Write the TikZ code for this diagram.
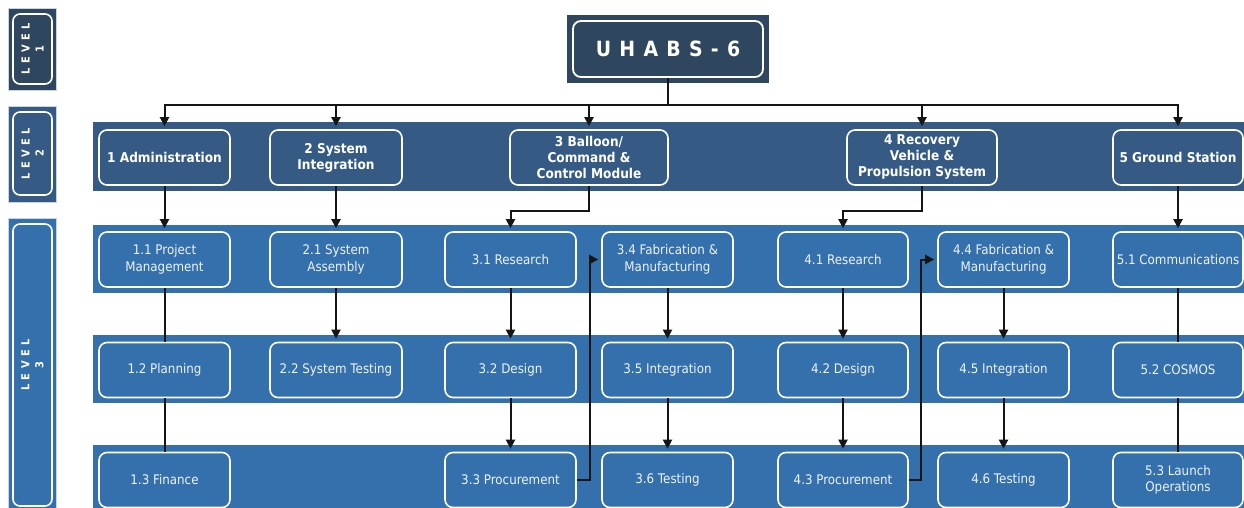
\documentclass[tikz,border=0pt]{standalone}
\usepackage{fontspec}
\setmainfont{DejaVu Sans}[FakeStretch=0.9]
\usetikzlibrary{arrows.meta}

\definecolor{navy}{HTML}{2E475E}
\definecolor{midblue}{HTML}{355B84}
\definecolor{ltblue}{HTML}{3470AB}
\definecolor{wire}{HTML}{151515}
\definecolor{txtlt}{HTML}{EEF3F8}
\definecolor{rim}{HTML}{C9D4DF}

\tikzset{
  wbs/.style={draw=white, line width=1.6pt, rounded corners=8pt, align=center,
    inner sep=2pt, minimum height=55pt},
  l2box/.style={wbs, fill=midblue, text=white,
    font=\bfseries\fontsize{13.5}{16}\selectfont},
  l3box/.style={wbs, fill=ltblue, text=txtlt,
    font=\fontsize{13.2}{16.5}\selectfont},
  sidebg/.style={draw=rim, line width=0.6pt, inner sep=0pt},
  sidein/.style={draw=white, line width=1.6pt, rounded corners=7pt, inner sep=0pt,
    minimum height=39pt, text=white, align=center,
    font=\bfseries\fontsize{11}{14}\selectfont\addfontfeatures{LetterSpace=40}},
  conn/.style={draw=wire, line width=2pt},
  arr/.style={conn, -{Triangle[length=9pt,width=9pt]}, shorten >=3pt},
}

\begin{document}
\begin{tikzpicture}[x=1pt, y=-1pt]
\useasboundingbox (0,0) rectangle (1244,508);
\clip (0,0) rectangle (1244,508);

% level bands
\fill[midblue] (93,122) rectangle (1244,191);
\fill[ltblue] (93,225) rectangle (1244,293);
\fill[ltblue] (93,335) rectangle (1244,403);
\fill[ltblue] (93,445) rectangle (1244,515);

% level tags on the left
\node[sidebg, fill=navy, minimum width=48pt, minimum height=82pt] (tag1bg) at (32,49) {};
\node[sidein, minimum width=70pt, rotate=90] (tag1) at (32.5,49) {LEVEL\\1};
\node[sidebg, fill=midblue, minimum width=48pt, minimum height=96pt] (tag2bg) at (32,154) {};
\node[sidein, minimum width=83pt, rotate=90] (tag2) at (32.5,153.5) {LEVEL\\2};
\node[sidebg, fill=ltblue, minimum width=48pt, minimum height=300pt] (tag3bg) at (32,368) {};
\node[sidein, minimum width=282pt, rotate=90] (tag3) at (32.5,365) {LEVEL\\3};

% root
\node[fill=navy, inner sep=0pt, minimum width=202pt, minimum height=68pt] (rootbg) at (668,49) {};
\node[draw=white, line width=1.8pt, rounded corners=8pt, inner sep=0pt,
      minimum width=190pt, minimum height=56pt, text=white,
      font=\bfseries\fontsize{21}{24}\selectfont\addfontfeatures{LetterSpace=8}]
      (root) at (668,49) {U H A B S - 6};

% level 2
\node[l2box, minimum width=131pt] (a) at (164.5,157.5) {1 Administration};
\node[l2box, minimum width=132pt] (b) at (336,157.5) {2 System\\Integration};
\node[l2box, minimum width=158pt] (c) at (589,157.5) {3 Balloon/\\Command \&\\Control Module};
\node[l2box, minimum width=150pt] (d) at (922,157.5) {4 Recovery\\Vehicle \&\\Propulsion System};
\node[l2box, minimum width=130pt] (e) at (1178,157.5) {5 Ground Station};

% level 3
\node[l3box, minimum width=131pt] (a1) at (164.5,259.5) {1.1 Project\\Management};
\node[l3box, minimum width=131pt] (a2) at (164.5,370) {1.2 Planning};
\node[l3box, minimum width=131pt] (a3) at (164.5,480) {1.3 Finance};
\node[l3box, minimum width=132pt] (b1) at (336,259.5) {2.1 System\\Assembly};
\node[l3box, minimum width=132pt] (b2) at (336,370) {2.2 System Testing};
\node[l3box, minimum width=131pt] (c1) at (510.5,259.5) {3.1 Research};
\node[l3box, minimum width=131pt] (c2) at (510.5,370) {3.2 Design};
\node[l3box, minimum width=131pt] (c3) at (510.5,480) {3.3 Procurement};
\node[l3box, minimum width=131pt] (c4) at (667.5,259.5) {3.4 Fabrication \&\\Manufacturing};
\node[l3box, minimum width=131pt] (c5) at (667.5,370) {3.5 Integration};
\node[l3box, minimum width=131pt] (c6) at (667.5,480) {3.6 Testing};
\node[l3box, minimum width=130pt] (d1) at (843,259.5) {4.1 Research};
\node[l3box, minimum width=130pt] (d2) at (843,370) {4.2 Design};
\node[l3box, minimum width=130pt] (d3) at (843,480) {4.3 Procurement};
\node[l3box, minimum width=131pt] (d4) at (1003.5,259.5) {4.4 Fabrication \&\\Manufacturing};
\node[l3box, minimum width=131pt] (d5) at (1003.5,370) {4.5 Integration};
\node[l3box, minimum width=131pt] (d6) at (1003.5,480) {4.6 Testing};
\node[l3box, minimum width=130pt] (e1) at (1178,259.5) {5.1 Communications};
\node[l3box, minimum width=130pt] (e2) at (1178,370) {5.2 COSMOS};
\node[l3box, minimum width=130pt] (e3) at (1178,480) {5.3 Launch\\Operations};

% root to level 2
\foreach \t in {a,b,c,d,e}
  \draw[arr] (root.south) -- ++(0,27) -| (\t.north);

% level 2 to level 3
\draw[arr] (a.south) -- (a1.north);
\draw[arr] (b.south) -- (b1.north);
\draw[arr] (c.south) -- ++(0,25) -| (c1.north);
\draw[arr] (d.south) -- ++(0,25) -| (d1.north);
\draw[arr] (e.south) -- (e1.north);

% within level 3
\draw[conn] (a1.south) -- (a2.north);
\draw[conn] (a2.south) -- (a3.north);
\draw[arr] (b1.south) -- (b2.north);
\draw[arr] (c1.south) -- (c2.north);
\draw[arr] (c2.south) -- (c3.north);
\draw[arr] (c4.south) -- (c5.north);
\draw[arr] (c5.south) -- (c6.north);
\draw[arr] (c3.east) -- ++(13,0) |- (c4.west);
\draw[arr] (d1.south) -- (d2.north);
\draw[arr] (d2.south) -- (d3.north);
\draw[arr] (d4.south) -- (d5.north);
\draw[arr] (d5.south) -- (d6.north);
\draw[arr] (d3.east) -- ++(12,0) |- (d4.west);
\draw[conn] (e1.south) -- (e2.north);
\draw[conn] (e2.south) -- (e3.north);
\end{tikzpicture}
\end{document}
